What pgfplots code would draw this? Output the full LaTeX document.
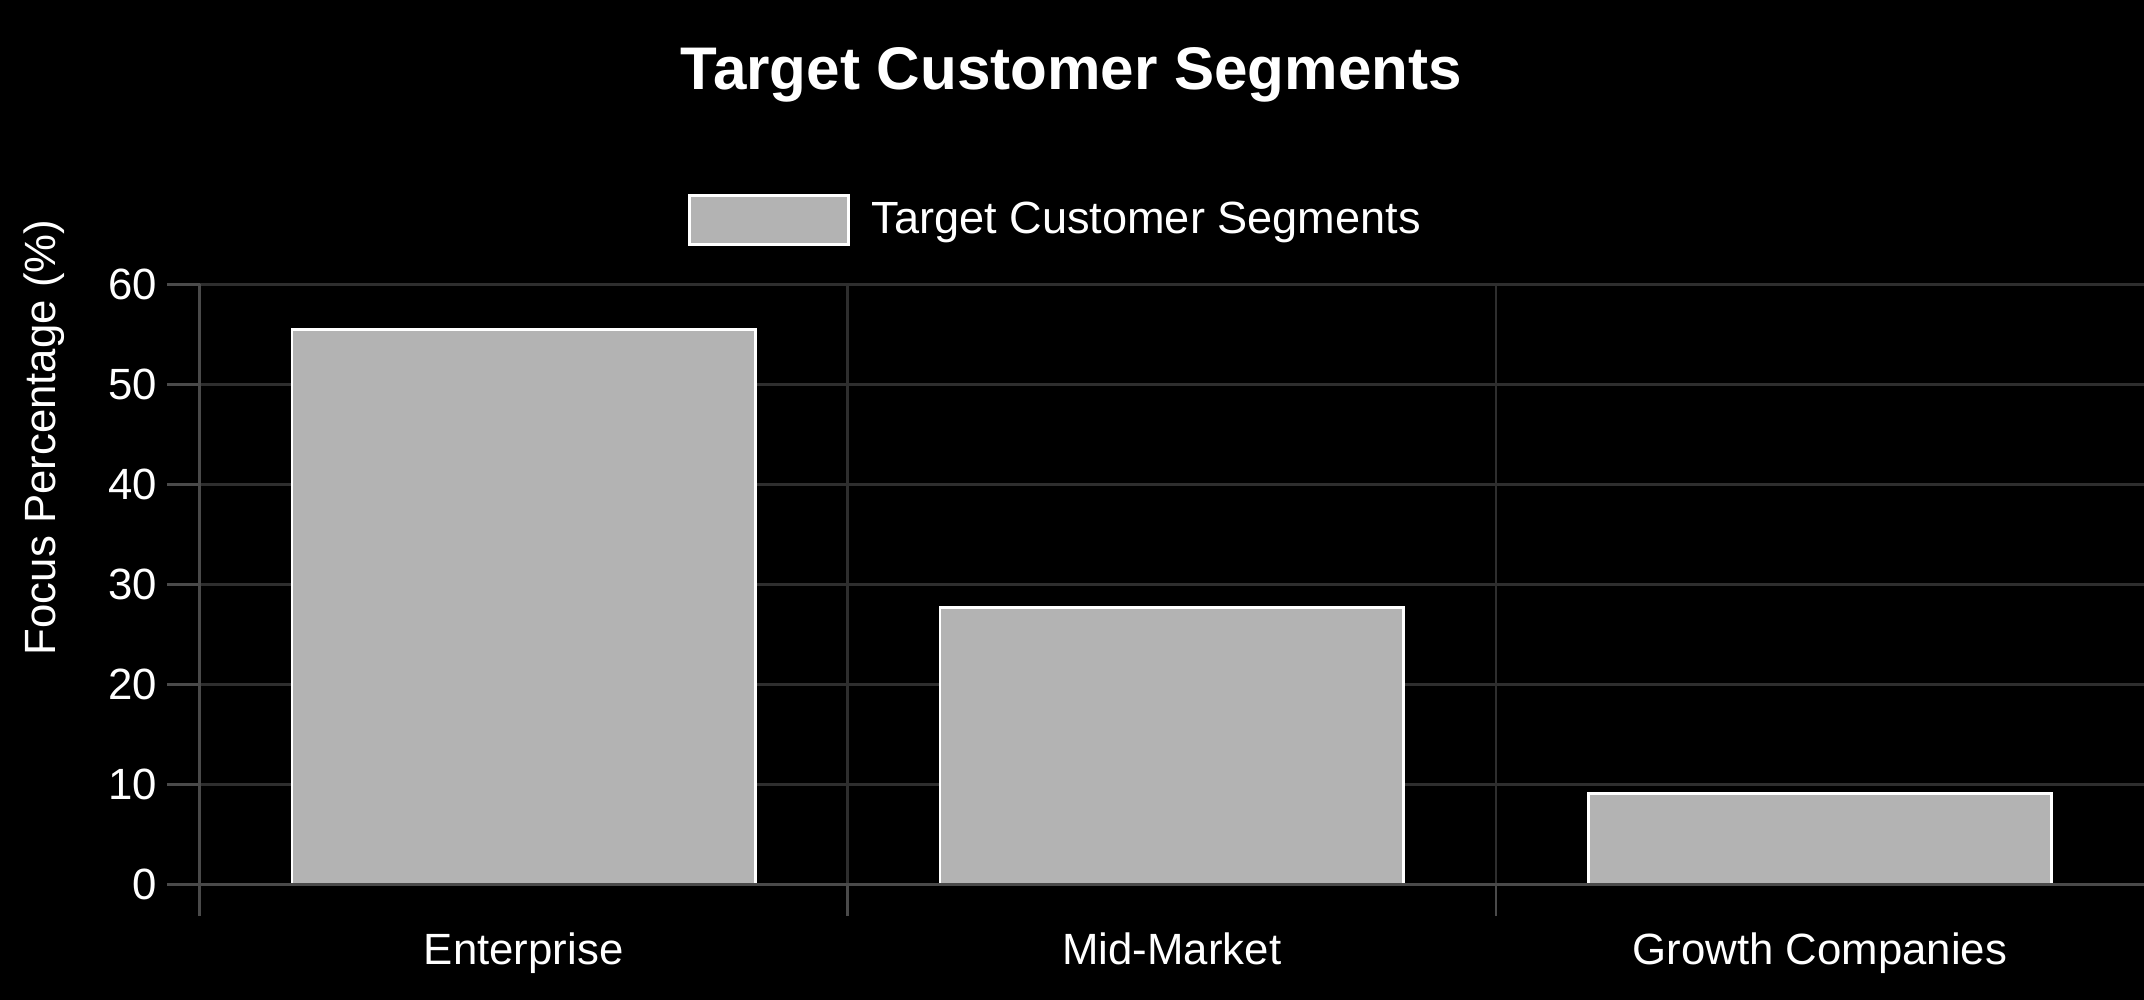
\documentclass[border=0pt]{standalone}
\usepackage{pgfplots}
\pgfplotsset{compat=1.18}
\usepackage{fontspec}
\setmainfont{Liberation Sans}
\definecolor{gridc}{HTML}{2E2E2E}
\definecolor{axc}{HTML}{4A4A4A}
\definecolor{barc}{HTML}{B3B3B3}
\begin{document}
\begin{tikzpicture}
\fill[black] (-73pt,-42pt) rectangle (711pt,323.5pt);
\path[use as bounding box] (-73pt,-42pt) rectangle (711pt,323.5pt);
\begin{axis}[at={(0,0)},anchor=south west,scale only axis,
  width=711pt,height=219.5pt,
  xmin=-0.5,xmax=2.5,ymin=0,ymax=60,
  ytick={0,10,...,60},
  xtick={0,1,2},xticklabels={Enterprise,Mid-Market,Growth Companies},
  minor xtick={-0.5,0.5,1.5},
  major x tick style={draw=none},
  minor x tick style={draw=axc,line width=1pt},
  minor tick length=11.5pt,
  ytick style={draw=axc,line width=1pt},
  major tick length=12pt,
  tick align=outside,
  ymajorgrids,minor x grid style={gridc,line width=1pt},xminorgrids,
  y grid style={gridc,line width=1pt},
  axis line style={draw=none},
  axis x line*=bottom, axis y line*=left,
  ticklabel style={font=\fontsize{16}{18}\selectfont,text=white},
  /pgf/number format/assume math mode=true,
  xticklabel style={yshift=-2pt},
  ylabel={Focus Percentage (\%)},
  ylabel style={font=\fontsize{16}{18}\selectfont,text=white,at={(-57pt,163.5pt)},anchor=center,rotate=0},
  ybar, bar width=169.5pt,
  legend style={at={(178.5pt,243pt)},anchor=west,draw=none,fill=none,inner sep=0pt,
    font=\fontsize{16.5}{18}\selectfont,text=white},
  legend image code/.code={\draw[#1,fill=barc,draw=white,line width=1pt] (0pt,-9pt) rectangle (58pt,9pt);},
  clip=false,
]
\addplot[fill=barc,draw=white,line width=1pt] coordinates {(0,55.5) (1,27.7) (2,9.1)};
\addlegendentry{\hspace{6pt}Target Customer Segments}
\draw[axc,line width=1pt] (axis cs:-0.5,0) -- (axis cs:-0.5,60);
\draw[axc,line width=1pt] (axis cs:-0.5,0) -- ++(-12pt,0) (axis cs:-0.5,0) -- (axis cs:2.5,0);
\end{axis}
\node[text=white,font=\bfseries\fontsize{22}{26}\selectfont] at (318.75pt,296pt) {Target Customer Segments};
\end{tikzpicture}
\end{document}
